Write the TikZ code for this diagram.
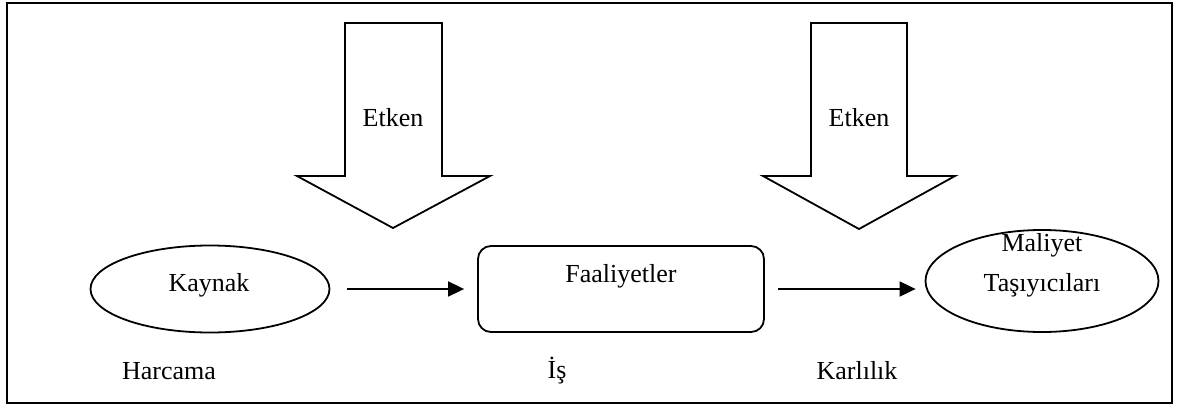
\documentclass[tikz,border=0pt]{standalone}
\usepackage{fontspec}
\setmainfont{Liberation Serif}
\usetikzlibrary{arrows.meta,shapes.geometric}
\begin{document}
\begin{tikzpicture}[x=1pt,y=-1pt,
  lbl/.style={font=\fontsize{26}{32}\selectfont, inner sep=0pt, align=center},
  shp/.style={draw, line width=1.8pt},
  blockarrow/.style={draw, line width=1.8pt, line join=miter},
  conn/.style={line width=1.8pt, -{Triangle[length=16pt,width=15pt]}}]
\useasboundingbox (0,0) rectangle (1187,405);
\draw[line width=2.4pt] (7,3) rectangle (1172,403);
% block arrows
\draw[blockarrow] (345,23) -- (442,23) -- (442,176) -- (490,176) -- (393,228) -- (297,176) -- (345,176) -- cycle;
\node[lbl] (etken1) at (393,118) {Etken};
\draw[blockarrow] (811,23) -- (907,23) -- (907,176) -- (955,176) -- (859,229) -- (763,176) -- (811,176) -- cycle;
\node[lbl] (etken2) at (859,118) {Etken};
% nodes
\node[shp, ellipse, minimum width=239pt, minimum height=87pt, inner sep=0pt] (kaynak) at (210,289) {};
\node[lbl] (kaynaktxt) at (209,285) {Kaynak};
\node[shp, rectangle, rounded corners=13pt, minimum width=286pt, minimum height=86pt, inner sep=0pt] (faal) at (621,289) {};
\node[lbl] (faaltxt) at (621,276) {Faaliyetler};
\node[shp, ellipse, minimum width=233pt, minimum height=102pt, inner sep=0pt] (maliyet) at (1042,281) {};
\node[lbl] (maliyettxt) at (1042,265) {Maliyet\\[8pt]Taşıyıcıları};
% connectors
\draw[conn, shorten <=17pt, shorten >=13pt] (kaynak.east) -- (faal.west);
\draw[conn, shorten <=13pt, shorten >=9pt] (faal.east) -- (maliyet.west |- faal.east);
% bottom labels
\node[lbl] (harcama) at (169,371) {Harcama};
\node[lbl] (is) at (557,371) {İş};
\node[lbl] (karlilik) at (857,371) {Karlılık};
\end{tikzpicture}
\end{document}
